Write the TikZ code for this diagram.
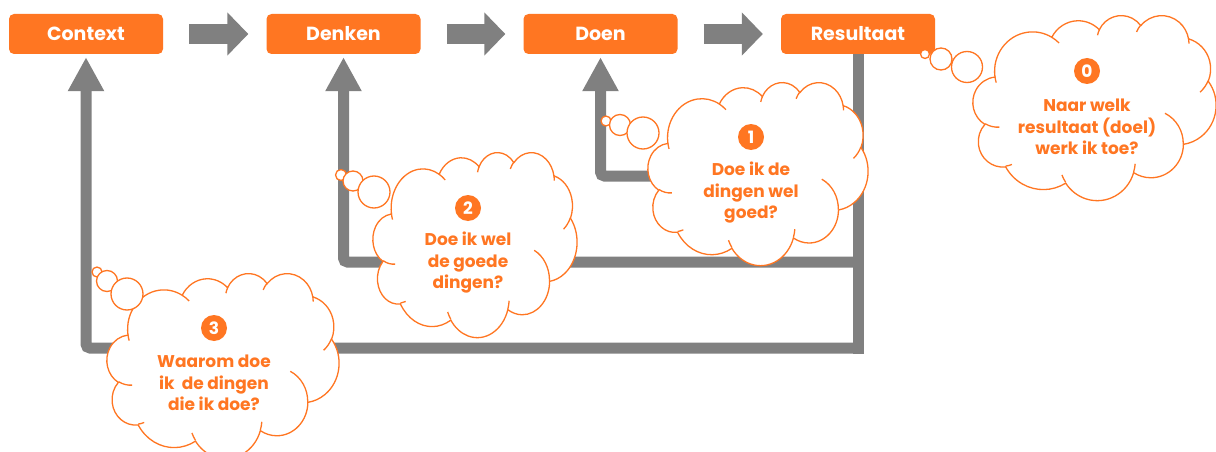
\documentclass[tikz,border=0pt]{standalone}
\usepackage{fontspec}
\setmainfont{Poppins}
\usetikzlibrary{arrows.meta}
\definecolor{org}{RGB}{255,118,34}
\definecolor{gry}{RGB}{128,128,128}
% elliptic arc given by a visual start angle and sweep (as in a drawn cloud outline)
\newcommand\ooarc[4]{arc[x radius=#1, y radius=#2,
  start angle={atan2(#1*sin(#3),#2*cos(#3))},
  delta angle={mod(atan2(#1*sin(#3+#4),#2*cos(#3+#4))-atan2(#1*sin(#3),#2*cos(#3))+720,360)}]}
\newcommand\cloudshape[4]{%
 \begin{scope}[shift={(#1,#2)}, x=#3, y=#4]
  \filldraw[cloudline, fill=white] (39.00,143.70)
   \ooarc{67.53}{91.90}{-190.4875}{123.7805}
   \ooarc{53.33}{72.67}{-144.1024}{89.9452}
   \ooarc{43.65}{59.45}{-145.8079}{99.7230}
   \ooarc{48.57}{65.95}{-130.9861}{117.2417}
   \ooarc{53.33}{72.73}{-78.7089}{109.0269}
   \ooarc{67.75}{92.20}{-46.2673}{130.2690}
   \ooarc{57.85}{78.67}{0.6250}{114.0333}
   \ooarc{67.52}{92.15}{22.4516}{115.1726}
   \ooarc{77.20}{105.43}{66.2426}{75.7110}
   \ooarc{43.60}{59.18}{-274.9421}{146.7356}
   \ooarc{43.45}{59.45}{-246.8285}{152.5189}
   -- cycle;
  \draw[cloudline]
   (46.93,261.77) \ooarc{43.45}{59.45}{86.742}{26.4295}
   (69.28,348.99) \ooarc{43.60}{59.18}{73.6105}{11.4475}
   (164.78,390.90) \ooarc{67.52}{92.15}{137.6242}{14.0811}
   (288.27,347.51) \ooarc{67.52}{92.15}{6.4533}{15.9984}
   (341.29,229.54) \ooarc{57.85}{78.67}{-70.2924}{70.9174}
   (417.98,153.54) \ooarc{53.33}{72.73}{30.3180}{27.7515}
   (383.24,54.26) \ooarc{48.57}{65.95}{-13.7443}{14.8589}
   (290.78,39.52) \ooarc{48.57}{65.95}{-149.1815}{18.1954}
   (221.41,47.20) \ooarc{43.65}{59.45}{-163.4943}{17.6864}
   (140.00,51.92) \ooarc{67.53}{91.90}{-66.7070}{12.3194}
   (41.27,157.89) \ooarc{67.53}{91.90}{157.6544}{11.8582};
 \end{scope}}
\begin{document}
\begin{tikzpicture}[x=1pt,y=-1pt,
 box/.style={fill=org, rounded corners=5pt, minimum width=154pt, minimum height=40pt, text=white, font=\bfseries\fontsize{19}{22}\selectfont, inner sep=0pt},
 flow/.style={draw=gry, line width=20pt, -{Triangle[width=42pt,length=21pt]}},
 loopline/.style={draw=gry, line width=11pt, rounded corners=4pt},
 uparrow/.style={loopline, -{Triangle[width=34pt,length=34pt]}, shorten >=3pt},
 cloudline/.style={draw=org, line width=1.3pt},
 bubble/.style={circle, draw=org, fill=white, line width=1.3pt, inner sep=0pt},
 num/.style={circle, fill=org, text=white, minimum size=26pt, inner sep=0pt, font=\bfseries\fontsize{17}{17}\selectfont},
 qtext/.style={text=org, align=center, font=\bfseries\fontsize{17}{21.5}\selectfont}
]
\useasboundingbox (0,0) rectangle (1216,452);
\fill[white] (0,0) rectangle (1216,452);

% boxes
\node[box] (ctx) at (86,34) {Context};
\node[box] (den) at (343.5,34) {Denken};
\node[box] (doen) at (600.5,34) {Doen};
\node[box] (res) at (858,34) {Resultaat};

% flow arrows
\draw[flow] ([xshift=26pt]ctx.east) -- ([xshift=-18pt]den.west);
\draw[flow] ([xshift=26pt]den.east) -- ([xshift=-18pt]doen.west);
\draw[flow] ([xshift=26pt]doen.east) -- ([xshift=-18pt]res.west);

% feedback loops
\coordinate (y1) at (0,176);
\coordinate (y2) at (0,262);
\coordinate (y3) at (0,348);
\coordinate (ybot) at (0,353.5);
\draw[draw=gry, line width=11pt] (res.south) -- (res.south |- ybot);
\draw[uparrow] (res.south |- y3) -- (ctx.south |- y3) -- (ctx.south);
\draw[uparrow] (res.south |- y2) -- (den.south |- y2) -- (den.south);
\draw[uparrow] (res.south |- y1) -- (doen.south |- y1) -- (doen.south);

% cloud 0
\cloudshape{973}{15}{0.5625pt}{-0.42824pt}
\node[bubble, minimum size=9pt] (b0a) at (925,54) {};
\node[bubble, minimum size=22pt] (b0b) at (941,59) {};
\node[bubble, minimum size=31pt] (b0c) at (967,67) {};
\node[num] (n0) at (1087,71) {0};
\node[qtext] (t0) at (1087,127) {Naar welk\\resultaat (doel)\\werk ik toe?};

% cloud 1
\cloudshape{648}{82}{0.50926pt}{-0.42361pt}
\node[bubble, minimum size=10pt] (b1a) at (606,121) {};
\node[bubble, minimum size=21pt] (b1b) at (620,125) {};
\node[bubble, minimum size=32pt] (b1c) at (643,133) {};
\node[num] (n1) at (751,137) {1};
\node[qtext] (t1) at (751,193) {Doe ik de\\dingen wel\\goed?};

% cloud 2
\cloudshape{373}{152}{0.47222pt}{-0.42824pt}
\node[bubble, minimum size=11pt] (b2a) at (341,175) {};
\node[bubble, minimum size=20pt] (b2b) at (353,181) {};
\node[bubble, minimum size=32pt] (b2c) at (374,192) {};
\node[num] (n2) at (468,208) {2};
\node[qtext] (t2) at (468,263) {Doe ik wel\\de goede\\dingen?};

% cloud 3
\cloudshape{107}{273}{0.53704pt}{-0.42824pt}
\node[bubble, minimum size=10pt] (b3a) at (97,272) {};
\node[bubble, minimum size=21pt] (b3b) at (107,281) {};
\node[bubble, minimum size=32pt] (b3c) at (127,294) {};
\node[num] (n3) at (214,328) {3};
\node[qtext] (t3) at (214,383) {Waarom doe\\ik~ de dingen\\die ik doe?};
\end{tikzpicture}
\end{document}
